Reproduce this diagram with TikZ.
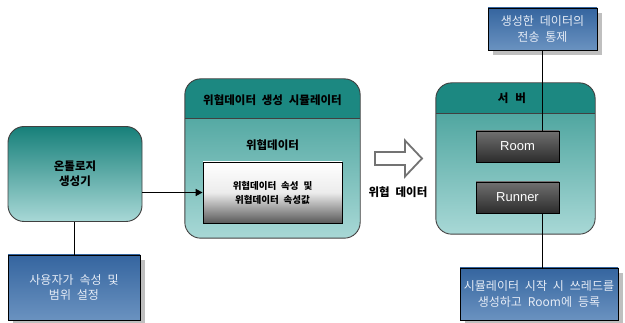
\documentclass[tikz,border=0pt]{standalone}
\usepackage{fontspec}
\setmainfont[WordSpace=2.2]{Noto Sans CJK KR}
\newfontfamily\arialfont{Liberation Sans}
\usetikzlibrary{shadows,arrows.meta}
\definecolor{tealdark}{HTML}{17807A}
\definecolor{teallight}{HTML}{A8D8D6}
\definecolor{tealmid}{HTML}{3A9A93}
\definecolor{tealhdr}{HTML}{1C8881}
\definecolor{bluetop}{HTML}{35659F}
\definecolor{bluebot}{HTML}{6A92C0}
\definecolor{bluetext}{HTML}{E6ECF6}
\definecolor{graytop}{HTML}{707070}
\definecolor{graybot}{HTML}{2C2C2C}
\definecolor{bordergray}{HTML}{404040}
\begin{document}
\begin{tikzpicture}[x=1pt,y=-1pt,
  tealbox/.style={rectangle, rounded corners=16pt, top color=tealdark, bottom color=teallight, inner sep=0pt},
  tealbody/.style={rectangle, rounded corners=16pt, top color=tealmid, bottom color=teallight, inner sep=0pt},
  bordered/.style={draw=bordergray, line width=0.9pt},
  bluebox/.style={rectangle, draw=black, line width=0.9pt, top color=bluetop, bottom color=bluebot,
     text=bluetext, font=\fontsize{12}{15.5}\selectfont, align=center, inner sep=0pt,
     drop shadow={shadow xshift=5pt, shadow yshift=-5pt, fill=gray!50, opacity=1}},
  graybox/.style={rectangle, draw=black, line width=0.8pt, top color=graytop, bottom color=graybot,
     text=white, font=\arialfont\fontsize{13}{15}\selectfont, inner sep=0pt, minimum width=83pt, minimum height=31pt},
  whitebox/.style={rectangle, draw=black, line width=0.8pt, top color=white, bottom color=gray!70!black, middle color=white!85!gray,
     font=\bfseries\fontsize{9.5}{14}\selectfont, align=center, inner sep=0pt},
  title/.style={font=\bfseries\fontsize{11.5}{15}\selectfont, align=center, text=black},
  conn/.style={draw=black, line width=0.8pt},
]
\useasboundingbox (0,0) rectangle (625,323);

% ---------- ontology generator ----------
\node[tealbox, bordered, minimum width=134pt, minimum height=95pt] (ont) at (75,174) {};
\node[title] (ontt) at (ont.center) {온톨로지\\생성기};

% ---------- user settings ----------
\node[bluebox, minimum width=132pt, minimum height=65pt] (user) at (74,287.5) {사용자가 속성 및\\범위 설정};
\draw[conn] (ont.south -| user.north) -- (user.north);

% ---------- simulator ----------
\node[tealbody, minimum width=175pt, minimum height=159pt] (sim) at (272.5,158.5) {};
\coordinate (simh) at (272.5,118);
\begin{scope}
  \clip[rounded corners=16pt] (sim.north west) rectangle (sim.south east);
  \fill[tealhdr] (sim.north west) rectangle (simh -| sim.east);
\end{scope}
\draw[bordered] (simh -| sim.west) -- (simh -| sim.east);
\draw[bordered, rounded corners=16pt] (sim.north west) rectangle (sim.south east);
\node[title] (simt) at (272.5,100) {위협데이터 생성 시뮬레이터};
\node[title] (simd) at (272.5,145) {위협데이터};
\node[whitebox, minimum width=139pt, minimum height=61pt] (inner) at (272.5,192.5) {위협데이터 속성 및\\위협데이터 속성값};

\draw[line width=1.6pt, -{Triangle[length=7pt,width=7pt]}] (ont.east |- inner.west) -- (inner.west);

% ---------- hollow arrow ----------
\coordinate (ha) at (398,158.5);
\draw[draw=gray!90!black, line width=1.8pt, fill=white, line join=miter]
  ([shift={(-23,-6.5)}]ha) -- ([shift={(7,-6.5)}]ha) -- ([shift={(7,-18)}]ha) -- ([shift={(24,0)}]ha)
  -- ([shift={(7,18)}]ha) -- ([shift={(7,6.5)}]ha) -- ([shift={(-23,6.5)}]ha) -- cycle;
\node[title] (hal) at (398,192) {위협 데이터};

% ---------- server ----------
\node[tealbody, minimum width=159pt, minimum height=151pt] (srv) at (515.5,158.5) {};
\coordinate (srvh) at (515.5,113);
\begin{scope}
  \clip[rounded corners=16pt] (srv.north west) rectangle (srv.south east);
  \fill[tealhdr] (srv.north west) rectangle (srvh -| srv.east);
\end{scope}
\draw[bordered] (srvh -| srv.west) -- (srvh -| srv.east);
\draw[bordered, rounded corners=16pt] (srv.north west) rectangle (srv.south east);
\node[title] (srvt) at (512,98) {서\hspace{7pt}버};
\node[graybox] (room) at (517.5,146.5) {Room};
\node[graybox] (runner) at (517.5,197.5) {Runner};

% ---------- top / bottom notes ----------
\node[bluebox, minimum width=109pt, minimum height=42pt] (top) at (542.5,29) {생성한 데이터의\\전송 통제};
\node[bluebox, minimum width=158pt, minimum height=52pt] (bot) at (539,294) {시뮬레이터 시작 시 쓰레드를\\생성하고 Room에 등록};
\draw[conn] (top.south) -- (top.south |- room.north);
\draw[conn] (top.south |- runner.south) -- (top.south |- bot.north);
\end{tikzpicture}
\end{document}
